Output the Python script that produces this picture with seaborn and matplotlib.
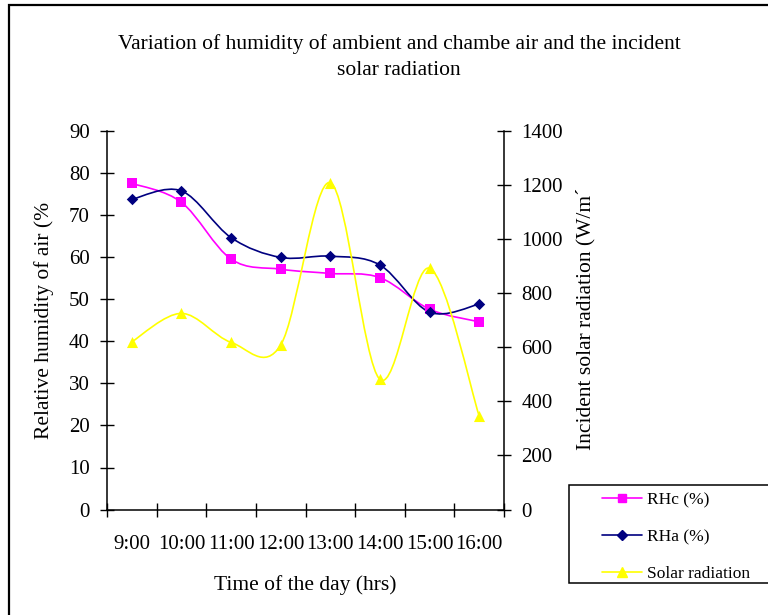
import numpy as np
import pandas as pd
import matplotlib
matplotlib.use("Agg")
import matplotlib.pyplot as plt
import seaborn as sns
from matplotlib.path import Path
from matplotlib.patches import PathPatch, Rectangle
from matplotlib.lines import Line2D

# ---- data ----
times = ["9:00", "10:00", "11:00", "12:00", "13:00", "14:00", "15:00", "16:00"]
rhc = [77.5, 73.0, 59.5, 57.1, 56.1, 55.1, 47.6, 44.6]
rha = [73.7, 75.7, 64.6, 59.9, 60.2, 58.1, 46.9, 48.8]
solar = [620, 725, 618, 608, 1208, 481, 892, 346]

title = "Variation of humidity of ambient and chambe air and the incident\nsolar radiation"
xlabel = "Time of the day (hrs)"
ylabel_left = "Relative humidity of air (%"
ylabel_right = "Incident solar radiation (W/m\u00b4"
labels = ["RHc (%)", "RHa (%)", "Solar radiation"]

sns.set_theme(style="white")
plt.rcParams["font.family"] = ["Liberation Serif", "DejaVu Serif"]

W, H = 768, 615
fig = plt.figure(figsize=(W / 100, H / 100), dpi=100)
fig.patch.set_facecolor("white")

ax_l, ax_r, ax_t, ax_b = 107, 504, 130.7, 509.6
ax = fig.add_axes([ax_l / W, 1 - ax_b / H, (ax_r - ax_l) / W, (ax_b - ax_t) / H])
ax2 = ax.twinx()

xpos = np.arange(len(times))
df = pd.DataFrame({"x": xpos, "rhc": rhc, "rha": rha, "solar": solar})


def smooth_path(xs, ys):
    pts = list(zip(xs, ys))
    n = len(pts)
    verts = [pts[0]]
    codes = [Path.MOVETO]
    for i in range(n - 1):
        p0 = pts[max(i - 1, 0)]
        p1 = pts[i]
        p2 = pts[i + 1]
        p3 = pts[min(i + 2, n - 1)]
        c1 = (p1[0] + (p2[0] - p0[0]) / 6, p1[1] + (p2[1] - p0[1]) / 6)
        c2 = (p2[0] - (p3[0] - p1[0]) / 6, p2[1] - (p3[1] - p1[1]) / 6)
        verts += [c1, c2, p2]
        codes += [Path.CURVE4] * 3
    return Path(verts, codes)


c_rhc, c_rha, c_sol = "#FF00FF", "#000080", "#FFFF00"
lw = 1.2

ax.add_patch(PathPatch(smooth_path(df.x, df.rhc), facecolor="none", edgecolor=c_rhc, lw=lw, zorder=2))
ax.add_patch(PathPatch(smooth_path(df.x, df.rha), facecolor="none", edgecolor=c_rha, lw=lw, zorder=2))
sns.scatterplot(data=df, x="x", y="rhc", marker="s", s=42, color=c_rhc, edgecolor=c_rhc, linewidth=0, ax=ax, zorder=3)
sns.scatterplot(data=df, x="x", y="rha", marker="D", s=34, color=c_rha, edgecolor=c_rha, linewidth=0, ax=ax, zorder=3)

ax2.add_patch(PathPatch(smooth_path(df.x, df.solar), facecolor="none", edgecolor=c_sol, lw=lw, zorder=2))
sns.scatterplot(data=df, x="x", y="solar", marker="^", s=64, color=c_sol, edgecolor=c_sol, linewidth=0, ax=ax2, zorder=3)

fs = 15
fs_lab = 15.5
ax.set_xlim(-0.5, len(times) - 0.5)
ax.set_ylim(0, 90)
ax2.set_ylim(0, 1400)
ax.set_yticks(np.arange(0, 91, 10))
ax2.set_yticks(np.arange(0, 1401, 200))
ax.set_xticks(np.arange(-0.5, len(times), 1.0))
ax.set_xticks(xpos, minor=True)
ax.set_xticklabels([])
ax.set_xticklabels(times, minor=True)

for a in (ax, ax2):
    a.grid(False)
    a.set_facecolor("none")
    for sp in a.spines.values():
        sp.set_visible(False)
ax.set_facecolor("white")
ax.spines["left"].set_visible(True)
ax.spines["bottom"].set_visible(True)
ax2.spines["right"].set_visible(True)
for sp in (ax.spines["left"], ax.spines["bottom"], ax2.spines["right"]):
    sp.set_color("black")
    sp.set_linewidth(1.1)

ax.tick_params(axis="x", which="major", direction="inout", length=10, width=1.0, color="black", bottom=True)
ax.tick_params(axis="x", which="minor", length=0, pad=18.5, labelsize=fs, colors="black", bottom=True)
ax.tick_params(axis="y", which="major", direction="inout", length=10, width=1.0, color="black",
               left=True, pad=7.5, labelsize=fs, labelcolor="black")
ax2.tick_params(axis="y", which="major", direction="inout", length=10, width=1.0, color="black",
                right=True, pad=7.5, labelsize=fs, labelcolor="black")

ax.set_xlabel(xlabel, fontsize=fs_lab, color="black", labelpad=15)
ax.set_ylabel(ylabel_left, fontsize=fs_lab, color="black")
ax.yaxis.set_label_coords((44 - ax_l) / (ax_r - ax_l), (ax_b - 320) / (ax_b - ax_t))
ax.yaxis.label.set_va("center")
ax2.set_ylabel(ylabel_right, fontsize=fs_lab, color="black", rotation=90)
ax2.yaxis.set_label_coords((586 - ax_l) / (ax_r - ax_l), (ax_b - 318.5) / (ax_b - ax_t))
ax2.yaxis.label.set_va("center")

fig.text(399 / W, 1 - 57 / H, title, ha="center", va="center", fontsize=15.5, color="black", linespacing=1.54)

# outer chart frame
fig.add_artist(Rectangle((9 / W, -0.1), 1.2, 1.1 - 5 / H, transform=fig.transFigure,
                         facecolor="none", edgecolor="black", lw=1.6, zorder=0))

# legend box (extends past the right edge as in the reference)
fig.add_artist(Rectangle((569 / W, 1 - 583 / H), 0.5, 98 / H, transform=fig.transFigure,
                         facecolor="white", edgecolor="black", lw=1.1, zorder=4))
handles = [
    Line2D([], [], color=c_rhc, marker="s", markersize=6, lw=lw),
    Line2D([], [], color=c_rha, marker="D", markersize=5, lw=lw),
    Line2D([], [], color=c_sol, marker="^", markersize=7.5, lw=lw),
]
leg = fig.legend(handles, labels, loc="center left", bbox_to_anchor=(602 / W, 1 - 537 / H),
                 frameon=False, fontsize=12.5, handlelength=2.3, handletextpad=0.29,
                 labelspacing=1.19, borderpad=0, borderaxespad=0)
leg.set_zorder(5)
for t in leg.get_texts():
    t.set_color("black")

fig.savefig("out.png", dpi=100, facecolor="white")
